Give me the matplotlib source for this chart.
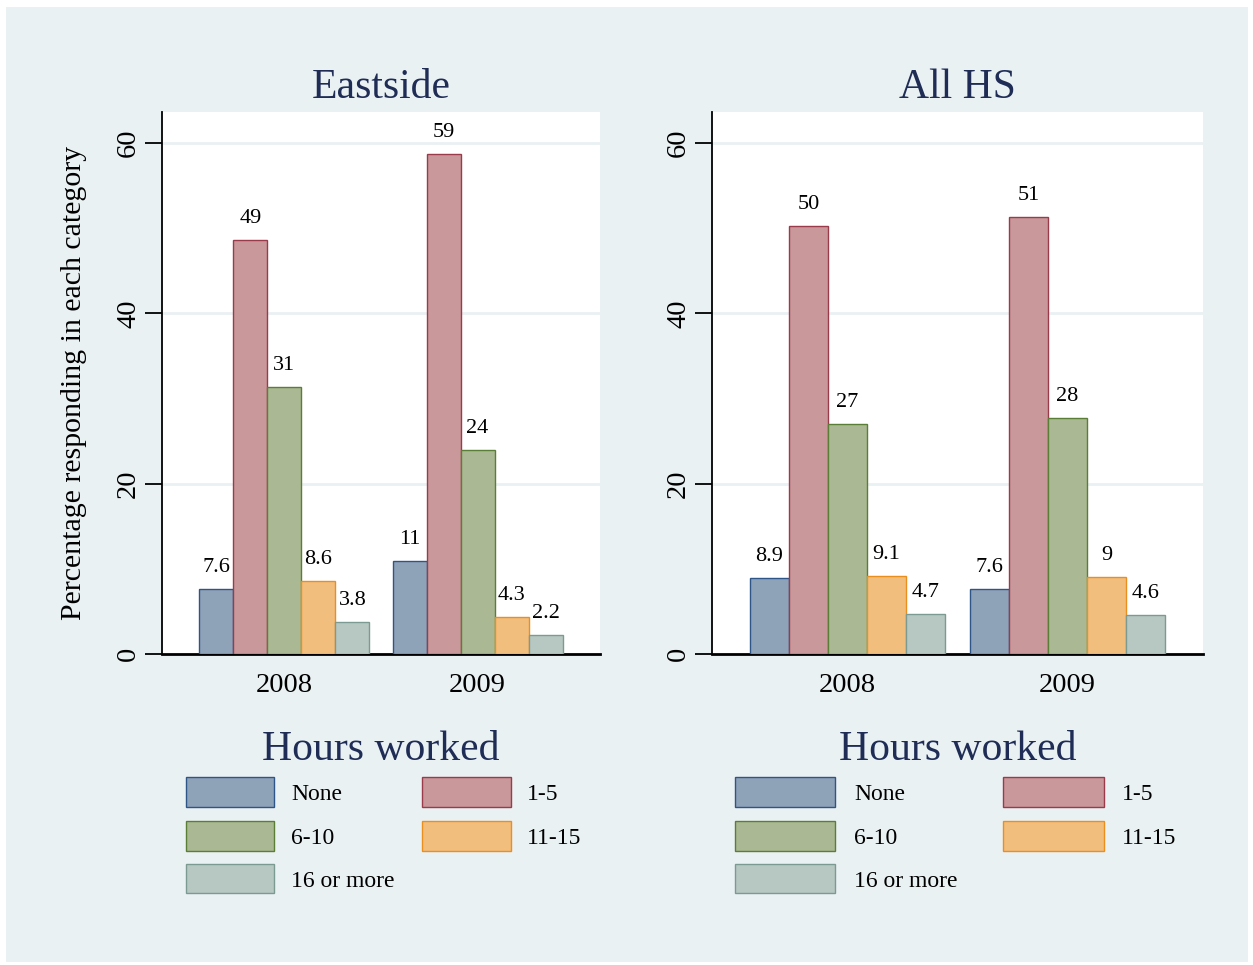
import matplotlib
matplotlib.use("Agg")
import matplotlib.pyplot as plt
from matplotlib.patches import Rectangle
import numpy as np

plt.rcParams['font.family'] = ['Liberation Serif', 'DejaVu Serif']

panels = ["Eastside", "All HS"]
years = ["2008", "2009"]
categories = ["None", "1-5", "6-10", "11-15", "16 or more"]
eastside_2008 = [7.6, 48.6, 31.4, 8.6, 3.8]
eastside_2009 = [10.9, 58.7, 23.9, 4.3, 2.2]
allhs_2008 = [8.9, 50.2, 27.0, 9.1, 4.7]
allhs_2009 = [7.6, 51.3, 27.7, 9.0, 4.6]
panel_data = [[eastside_2008, eastside_2009], [allhs_2008, allhs_2009]]
y_ticks = [0, 20, 40, 60]
y_label = "Percentage responding in each category"
legend_title = "Hours worked"

fills = ["#8FA3B8", "#C8989B", "#AAB993", "#F2BE7E", "#B7C8C2"]
edges = ["#2E5587", "#9B3A4A", "#5A7E36", "#EA8F1E", "#7A9A92"]
bg = "#EAF1F3"
navy = "#1F2D56"

W, H = 1253, 965
fig = plt.figure(figsize=(W / 100, H / 100), dpi=100)
fig.patch.set_facecolor("white")
fig.patches.append(Rectangle((6 / W, 1 - 962 / H), (1248 - 6) / W, (962 - 7) / H,
                             transform=fig.transFigure, facecolor=bg, edgecolor="none", zorder=-10))

def fx(px):
    return px / W

def fy(py):
    return 1 - py / H

axes_px = [(162, 600), (712, 1203)]
gaps = [0.68, 0.64]
margins = [1.1, 0.975]
top, bottom = 112, 654

for p, (x0, x1) in enumerate(axes_px):
    ax = fig.add_axes([fx(x0), fy(bottom), fx(x1 - x0), (bottom - top) / H])
    ax.set_facecolor("white")
    gap, margin = gaps[p], margins[p]
    group_starts = [0, 5 + gap]
    for g, vals in enumerate(panel_data[p]):
        xs = group_starts[g] + np.arange(len(categories))
        ax.bar(xs, vals, width=1.0, color=fills, edgecolor=edges, linewidth=1.0, zorder=3)
        for xv, v in zip(xs, vals):
            ax.annotate(f"{v:.2g}", (xv, v), xytext=(0, 15.5), textcoords="offset points",
                        ha="center", va="center", fontsize=16, color="black", zorder=4)
    ax.set_xlim(-0.5 - margin, group_starts[1] + 4.5 + margin)
    ax.set_ylim(0, (bottom - top) / ((bottom - 143) / 60))
    ax.set_yticks(y_ticks)
    ax.set_yticklabels([str(t) for t in y_ticks], rotation=90, va="center", fontsize=20.5)
    ax.set_xticks([group_starts[0] + 2, group_starts[1] + 2])
    ax.set_xticklabels(years, fontsize=20.5)
    ax.tick_params(axis="x", length=0, pad=13.5)
    ax.tick_params(axis="y", length=12, width=1.3, pad=3, direction="out")
    for t in y_ticks[1:]:
        ax.axhline(t, color=bg, lw=2, zorder=1)
    ax.spines["top"].set_visible(False)
    ax.spines["right"].set_visible(False)
    ax.spines["left"].set_linewidth(1.3)
    ax.spines["bottom"].set_linewidth(2)
    ax.set_title(panels[p], fontsize=30, color=navy, pad=10)
    if p == 0:
        ax.set_ylabel(y_label, fontsize=21.5, labelpad=21)

    # legend
    cx = (x0 + x1) / 2
    fig.text(fx(cx), fy(750), legend_title, fontsize=30, color=navy, ha="center", va="center")
    if p == 0:
        cols = [(186, 274, 291), (422, 511, 527)]
    else:
        cols = [(735, 835, 854), (1003, 1104, 1122)]
    rows = [(777, 807), (821, 851), (864, 893)]
    layout = [(0, 0), (0, 1), (1, 0), (1, 1), (2, 0)]
    for i, (r, c) in enumerate(layout):
        px0, px1, tx = cols[c]
        ry0, ry1 = rows[r]
        fig.patches.append(Rectangle((fx(px0), fy(ry1)), fx(px1 - px0), (ry1 - ry0) / H,
                                     transform=fig.transFigure, facecolor=fills[i],
                                     edgecolor=edges[i], linewidth=1.0))
        fig.text(fx(tx), fy((ry0 + ry1) / 2 + 3), categories[i], fontsize=17, ha="left", va="center")

fig.savefig("out.png", dpi=100)
